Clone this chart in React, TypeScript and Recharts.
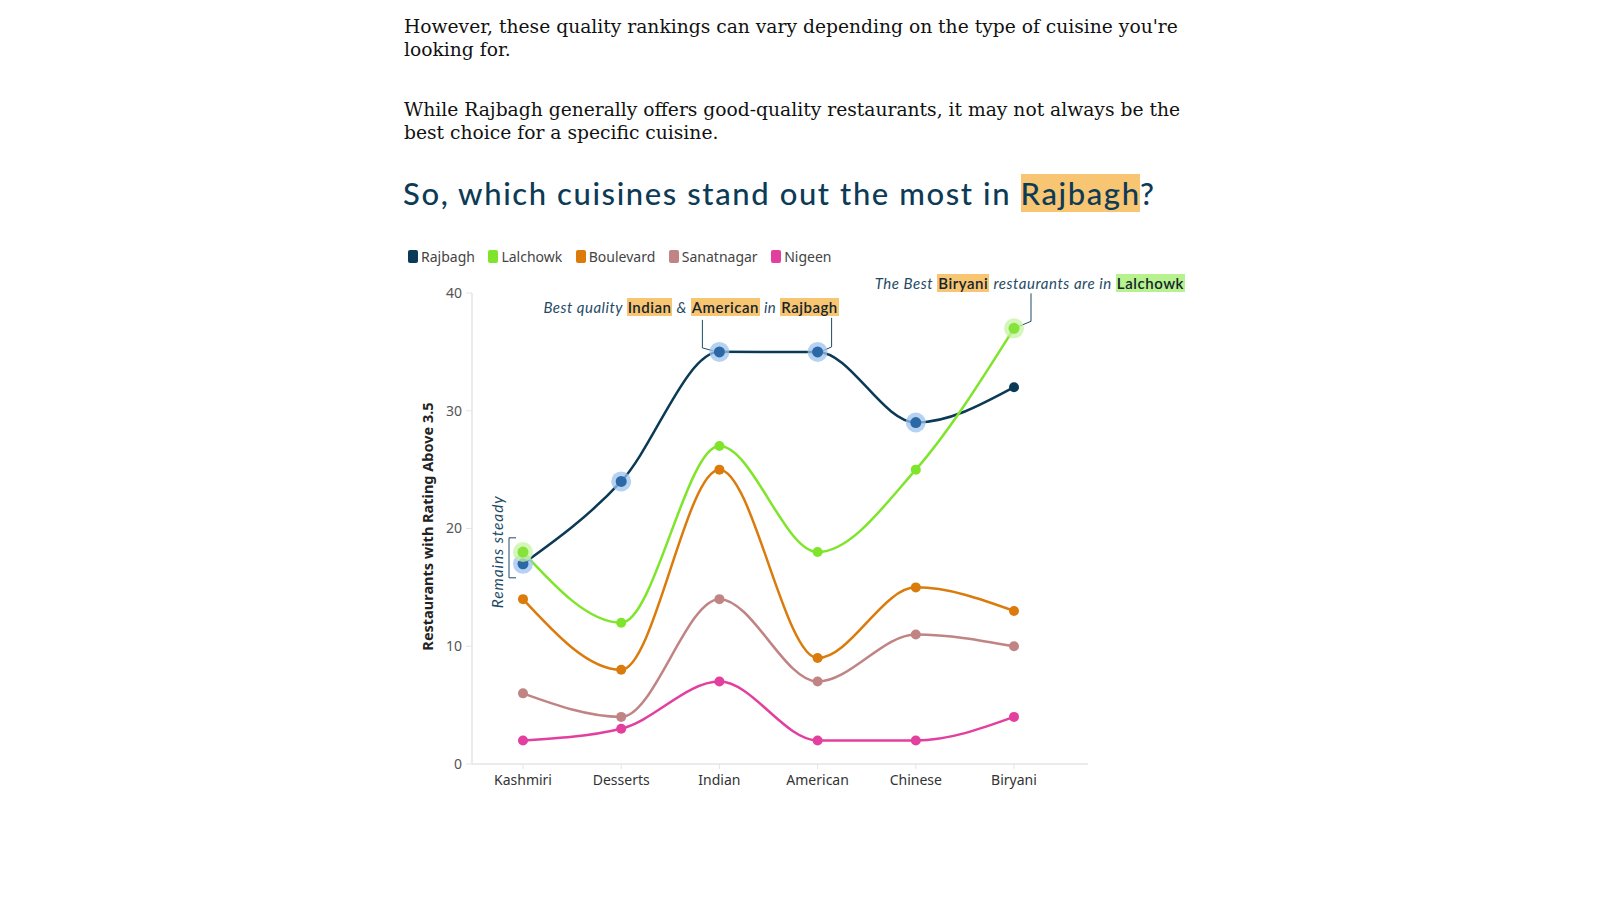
import React from "react";
import {
  LineChart,
  Line,
  XAxis,
  YAxis,
  Legend,
  ReferenceDot,
} from "recharts";

// Cuisine categories along the x axis
const cuisines = ["Kashmiri", "Desserts", "Indian", "American", "Chinese", "Biryani"];

// Restaurants with a rating above 3.5, per neighbourhood
const rajbagh = [17, 24, 35, 35, 29, 32];
const lalchowk = [18, 12, 27, 18, 25, 37];
const boulevard = [14, 8, 25, 9, 15, 13];
const sanatnagar = [6, 4, 14, 7, 11, 10];
const nigeen = [2, 3, 7, 2, 2, 4];

const yTicks = [0, 10, 20, 30, 40];

// Points that get a soft halo
const rajbaghHighlights = [0, 1, 2, 3, 4];
const lalchowkHighlights = [0, 5];

const series = [
  { key: "Rajbagh", values: rajbagh, color: "#0b3a56" },
  { key: "Lalchowk", values: lalchowk, color: "#7fe52b" },
  { key: "Boulevard", values: boulevard, color: "#da7b0c" },
  { key: "Sanatnagar", values: sanatnagar, color: "#c08484" },
  { key: "Nigeen", values: nigeen, color: "#e33f9f" },
];

const data = cuisines.map((c, i) => {
  const row: Record<string, string | number> = { cuisine: c };
  series.forEach((s) => {
    row[s.key] = s.values[i];
  });
  return row;
});

const SANS = "'Noto Sans', sans-serif";
const DISPLAY = "Lato, 'Open Sans', sans-serif";
const NOTE = "#1f4b66";
const HL_ORANGE = "#f8c572";
const HL_GREEN = "#b7f28e";

const hl = (bg: string): React.CSSProperties => ({
  background: bg,
  fontStyle: "normal",
  fontWeight: 600,
  color: "#15242c",
  padding: "0 1px",
});

const makeDot = (color: string, highlights: number[], haloColor: string, innerColor: string) =>
  (props: any) => {
    const { cx, cy, index } = props;
    if (cx == null || cy == null) return <g key={`d-${index}`} />;
    if (highlights.includes(index)) {
      return (
        <g key={`d-${index}`}>
          <circle cx={cx} cy={cy} r={10} fill={haloColor} fillOpacity={0.75} />
          <circle cx={cx} cy={cy} r={5.5} fill={innerColor} />
        </g>
      );
    }
    return <circle key={`d-${index}`} cx={cx} cy={cy} r={5} fill={color} />;
  };

const dots: Record<string, any> = {
  Rajbagh: makeDot("#0b3a56", rajbaghHighlights, "#9ec3ee", "#2c68a6"),
  Lalchowk: makeDot("#7fe52b", lalchowkHighlights, "#c6f3a3", "#86e33a"),
  Boulevard: makeDot("#da7b0c", [], "", ""),
  Sanatnagar: makeDot("#c08484", [], "", ""),
  Nigeen: makeDot("#e33f9f", [], "", ""),
};

const LegendContent = () => (
  <div style={{ display: "flex", alignItems: "center", fontFamily: SANS, fontSize: 14, color: "#444" }}>
    {series.map((s) => (
      <div key={s.key} style={{ display: "flex", alignItems: "center", marginRight: 13.5 }}>
        <span
          style={{
            display: "inline-block",
            width: 10,
            height: 13,
            borderRadius: 2,
            background: s.color,
            marginRight: 3,
          }}
        />
        <span>{s.key}</span>
      </div>
    ))}
  </div>
);

const noteText: React.CSSProperties = {
  fontFamily: DISPLAY,
  fontStyle: "italic",
  fontSize: 15,
  lineHeight: "22px",
  color: NOTE,
  whiteSpace: "nowrap",
  letterSpacing: 0.5,
};

// Callout over the Indian peak; also draws the left leg
const IndianCallout = (props: any) => {
  const { cx, cy } = props;
  return (
    <g>
      <polyline
        points={`${cx - 17},${cy - 32} ${cx - 17},${cy - 4} ${cx - 6},${cy - 1}`}
        fill="none"
        stroke={NOTE}
        strokeWidth={1}
      />
      <foreignObject x={cx - 176} y={cy - 56} width={340} height={22}>
        <div style={noteText}>
          Best quality <span style={hl(HL_ORANGE)}>Indian</span> &amp;{" "}
          <span style={hl(HL_ORANGE)}>American</span> in{" "}
          <span style={hl(HL_ORANGE)}>Rajbagh</span>
        </div>
      </foreignObject>
    </g>
  );
};

const AmericanLeg = (props: any) => {
  const { cx, cy } = props;
  return (
    <polyline
      points={`${cx + 14},${cy - 34} ${cx + 14},${cy - 5} ${cx + 5},${cy - 1}`}
      fill="none"
      stroke={NOTE}
      strokeWidth={1}
    />
  );
};

const BiryaniCallout = (props: any) => {
  const { cx, cy } = props;
  return (
    <g>
      <polyline
        points={`${cx + 17},${cy - 35} ${cx + 17},${cy - 7} ${cx + 5},${cy - 2}`}
        fill="none"
        stroke={NOTE}
        strokeWidth={1}
      />
      <foreignObject x={cx - 250} y={cy - 56} width={421} height={22}>
        <div style={{ ...noteText, textAlign: "right", letterSpacing: 0.55 }}>
          The Best <span style={hl(HL_ORANGE)}>Biryani</span> restaurants are in{" "}
          <span style={hl(HL_GREEN)}>Lalchowk</span>
        </div>
      </foreignObject>
    </g>
  );
};

const SteadyCallout = (props: any) => {
  const { cx, cy } = props;
  const bx = cx - 14;
  return (
    <g>
      <polyline
        points={`${cx - 7},${cy - 26} ${bx},${cy - 26} ${bx},${cy + 14} ${cx - 7},${cy + 14}`}
        fill="none"
        stroke={NOTE}
        strokeWidth={1}
      />
      <text
        transform={`translate(${cx - 26},${cy - 12}) rotate(-90)`}
        textAnchor="middle"
        dominantBaseline="central"
        fontFamily={DISPLAY}
        fontStyle="italic"
        fontSize={15.5}
        letterSpacing={0.9}
        fill={NOTE}
      >
        Remains steady
      </text>
    </g>
  );
};

const YLabel = (props: any) => {
  const { viewBox } = props;
  const x = viewBox.x + 15;
  const y = viewBox.y + viewBox.height / 2 - 2;
  return (
    <text
      transform={`translate(${x},${y}) rotate(-90)`}
      textAnchor="middle"
      dominantBaseline="central"
      fontFamily={SANS}
      fontWeight={700}
      fontSize={14.5}
      fill="#222"
    >
      Restaurants with Rating Above 3.5
    </text>
  );
};

const bodyStyle: React.CSSProperties = {
  position: "absolute",
  left: 404,
  margin: 0,
  fontFamily: "'DejaVu Serif', Georgia, serif",
  fontSize: 18.7,
  lineHeight: "23px",
  color: "#111",
  whiteSpace: "nowrap",
};

export default function App() {
  return (
    <div style={{ position: "absolute", left: 0, top: 0, width: 1600, height: 900, background: "#fff" }}>
      <p style={{ ...bodyStyle, top: 15 }}>
        However, these quality rankings can vary depending on the type of cuisine you're
        <br />
        looking for.
      </p>
      <p style={{ ...bodyStyle, top: 98 }}>
        While Rajbagh generally offers good-quality restaurants, it may not always be the
        <br />
        best choice for a specific cuisine.
      </p>
      <h2
        style={{
          position: "absolute",
          left: 403,
          top: 175,
          margin: 0,
          fontFamily: DISPLAY,
          fontWeight: 500,
          fontSize: 31,
          lineHeight: "36px",
          letterSpacing: 1.6,
          color: "#0d3b56",
          whiteSpace: "nowrap",
        }}
      >
        So, which cuisines stand out the most in{" "}
        <span style={{ background: HL_ORANGE }}>Rajbagh</span>?
      </h2>

      <div style={{ position: "absolute", left: 380, top: 230 }}>
        <LineChart
          width={820}
          height={580}
          data={data}
          margin={{ top: 63, right: 112, bottom: 16, left: 32 }}
        >
          <XAxis
            dataKey="cuisine"
            padding={{ left: 51, right: 74 }}
            height={30}
            axisLine={{ stroke: "#e4e4e4", strokeWidth: 1.5 }}
            tickLine={{ stroke: "#e4e4e4" }}
            tickSize={5}
            tickMargin={6}
            tick={{ fontFamily: SANS, fontSize: 14, fill: "#333" }}
            interval={0}
          />
          <YAxis
            width={60}
            domain={[0, 40]}
            ticks={yTicks}
            axisLine={{ stroke: "#e4e4e4", strokeWidth: 1.5 }}
            tickLine={{ stroke: "#e4e4e4" }}
            tickSize={6}
            tickMargin={4}
            tick={{ fontFamily: SANS, fontSize: 14, fill: "#555" }}
            label={<YLabel />}
          />
          <Legend
            layout="horizontal"
            verticalAlign="middle"
            align="center"
            wrapperStyle={{ top: 17, left: 28, width: "auto" }}
            content={<LegendContent />}
          />
          {series.map((s) => (
            <Line
              key={s.key}
              type="monotone"
              dataKey={s.key}
              stroke={s.color}
              strokeWidth={2.5}
              dot={dots[s.key]}
              activeDot={false}
              isAnimationActive={false}
            />
          ))}
          <ReferenceDot x="Indian" y={rajbagh[2]} r={0} shape={<IndianCallout />} ifOverflow="visible" />
          <ReferenceDot x="American" y={rajbagh[3]} r={0} shape={<AmericanLeg />} ifOverflow="visible" />
          <ReferenceDot x="Biryani" y={lalchowk[5]} r={0} shape={<BiryaniCallout />} ifOverflow="visible" />
          <ReferenceDot x="Kashmiri" y={rajbagh[0]} r={0} shape={<SteadyCallout />} ifOverflow="visible" />
        </LineChart>
      </div>
    </div>
  );
}
